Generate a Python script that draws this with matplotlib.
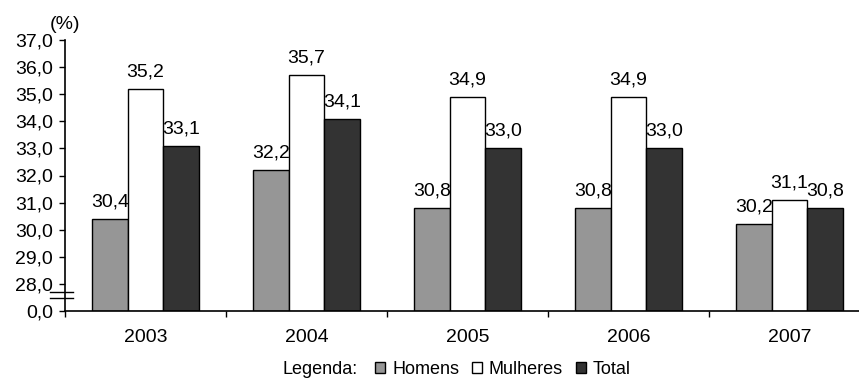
import numpy as np
import matplotlib.pyplot as plt

plt.rcParams['font.family'] = ['Liberation Sans', 'DejaVu Sans']

# data
anos = ['2003', '2004', '2005', '2006', '2007']
homens = [30.4, 32.2, 30.8, 30.8, 30.2]
mulheres = [35.2, 35.7, 34.9, 34.9, 31.1]
total = [33.1, 34.1, 33.0, 33.0, 30.8]

# y axis is broken: the bottom tick (27) stands for 0,0
y_base = 27.0
y_ticks = [27, 28, 29, 30, 31, 32, 33, 34, 35, 36, 37]
y_labels = ['0,0'] + [('%.1f' % v).replace('.', ',') for v in y_ticks[1:]]

fig = plt.figure(figsize=(8.59, 3.78), dpi=100)
ax = fig.add_axes([65 / 859, 1 - 311 / 378, 805 / 859, 271 / 378])

x = np.arange(len(anos))
w = 0.222
series = [(homens, '#969696', 'Homens'),
          (mulheres, '#ffffff', 'Mulheres'),
          (total, '#333333', 'Total')]

for i, (vals, cor, nome) in enumerate(series):
    pos = x + (i - 1) * w
    heights = [v - y_base for v in vals]
    ax.bar(pos, heights, w, bottom=y_base, color=cor, edgecolor='black',
           linewidth=1.0, label=nome)
    for px, v in zip(pos, vals):
        ax.annotate(('%.1f' % v).replace('.', ','), (px, v),
                    xytext=(0, 9), textcoords='offset points',
                    ha='center', va='baseline', fontsize=14)

ax.set_xlim(-0.5, len(anos) - 0.5)
ax.set_ylim(27, 37)
ax.set_yticks(y_ticks)
ax.set_yticklabels(y_labels, fontsize=14)
ax.tick_params(axis='y', direction='out', length=4.5, width=1, pad=4)

ax.set_xticks(x)
ax.set_xticklabels(anos, fontsize=14)
ax.set_xticks(np.arange(len(anos)) - 0.5, minor=True)
ax.tick_params(axis='x', which='major', length=0, pad=13)
ax.tick_params(axis='x', which='minor', direction='out', length=4.5, width=1)

for s in ['top', 'right']:
    ax.spines[s].set_visible(False)
for s in ['left', 'bottom']:
    ax.spines[s].set_linewidth(1.2)

# axis break marks
trans = ax.get_yaxis_transform()
for yb in [27.48, 27.70]:
    ax.plot([-0.019, 0.010], [yb, yb], color='black', lw=1.0,
            transform=trans, clip_on=False)

ax.text(-0.0186, 1.025, '(%)', transform=ax.transAxes, fontsize=14,
        ha='left', va='bottom')

# legend row under the chart
fig.text(282 / 859, 1 - 370 / 378, 'Legenda:', fontsize=13, va='center')
leg = fig.legend(loc='center left', bbox_to_anchor=(375 / 859, 1 - 369 / 378),
                 ncol=3, frameon=False, fontsize=13, handlelength=0.55,
                 handleheight=0.55, handletextpad=0.4, columnspacing=0.7,
                 borderpad=0, borderaxespad=0)

fig.savefig('out.png', dpi=100)
